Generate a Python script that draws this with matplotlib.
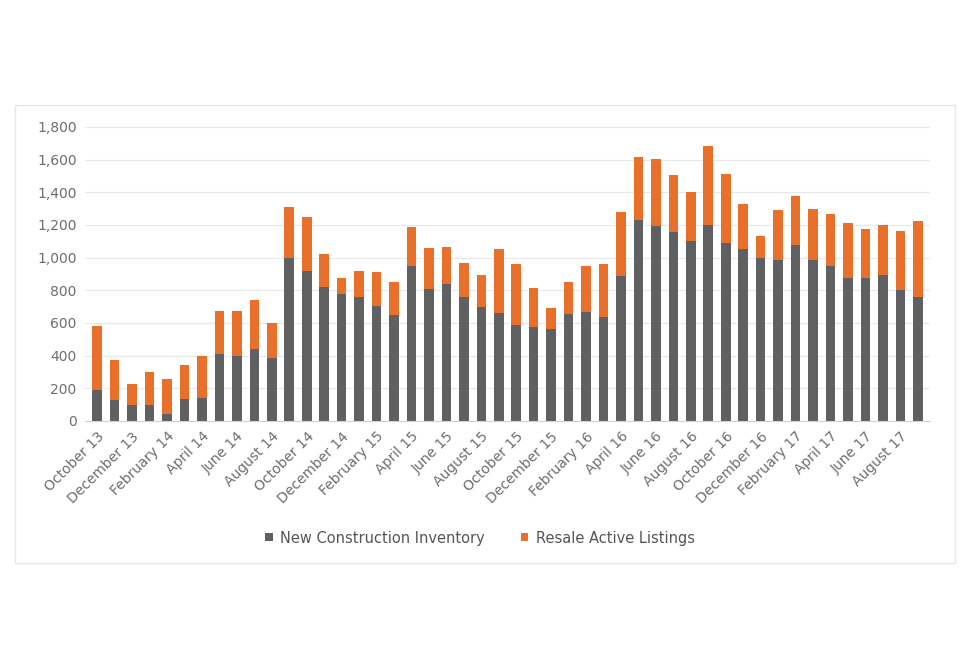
import matplotlib
matplotlib.use("Agg")
import matplotlib.pyplot as plt
from matplotlib.patches import Rectangle
import numpy as np

months = ["October 13","November 13","December 13","January 14","February 14","March 14","April 14","May 14","June 14","July 14","August 14","September 14",
          "October 14","November 14","December 14","January 15","February 15","March 15","April 15","May 15","June 15","July 15","August 15","September 15",
          "October 15","November 15","December 15","January 16","February 16","March 16","April 16","May 16","June 16","July 16","August 16","September 16",
          "October 16","November 16","December 16","January 17","February 17","March 17","April 17","May 17","June 17","July 17","August 17","September 17"]
total = [580,375,225,300,255,345,400,675,675,740,600,1310,
         1250,1025,875,920,915,850,1190,1060,1065,970,895,1050,
         960,815,690,850,950,960,1280,1615,1605,1505,1405,1685,
         1510,1330,1130,1290,1380,1295,1265,1215,1175,1200,1165,1225]
new_construction = [190,130,95,95,40,135,140,410,400,440,385,1000,
                    920,820,775,760,705,650,950,810,840,760,700,660,
                    590,575,565,655,665,635,890,1230,1195,1160,1100,1200,
                    1090,1055,1000,985,1075,985,950,875,875,895,800,760]
resale = [t - n for t, n in zip(total, new_construction)]

gray = "#5f6062"; orange = "#e8702a"; txt = "#6d6e70"
fig = plt.figure(figsize=(9.6, 6.54), dpi=100)
fig.patches.append(Rectangle((15/960, 1-563/654), 940/960, 458/654, transform=fig.transFigure,
                             fill=False, edgecolor="#e6e6e6", lw=1))
ax = fig.add_axes([85/960, 1-421/654, 845/960, 294/654])
x = np.arange(len(months))
ax.bar(x, new_construction, width=0.55, color=gray, label="New Construction Inventory")
ax.bar(x, resale, bottom=new_construction, width=0.55, color=orange, label="Resale Active Listings")
ax.set_ylim(0, 1800)
ax.set_xlim(-0.7, len(months)-0.3)
ax.set_yticks(range(0, 1801, 200))
ax.set_yticklabels([f"{v:,}" for v in range(0, 1801, 200)], color=txt, fontsize=10)
ax.set_xticks(x[::2])
ax.set_xticklabels(months[::2], rotation=45, ha="right", rotation_mode="anchor", color=txt, fontsize=10)
ax.grid(axis="y", color="#e8e8e8", lw=0.8)
ax.set_axisbelow(True)
for s in ax.spines.values():
    s.set_visible(False)
ax.spines["bottom"].set_visible(True); ax.spines["bottom"].set_color("#d0d0d0")
ax.tick_params(length=0, pad=6)
leg = fig.legend(loc="center", bbox_to_anchor=(0.5, 1-538/654), ncol=2, frameon=False,
                 fontsize=10.5, handlelength=0.5, handleheight=0.5, columnspacing=2.5, handletextpad=0.5)
for t in leg.get_texts():
    t.set_color("#555555")
fig.savefig("out.png", dpi=100)
